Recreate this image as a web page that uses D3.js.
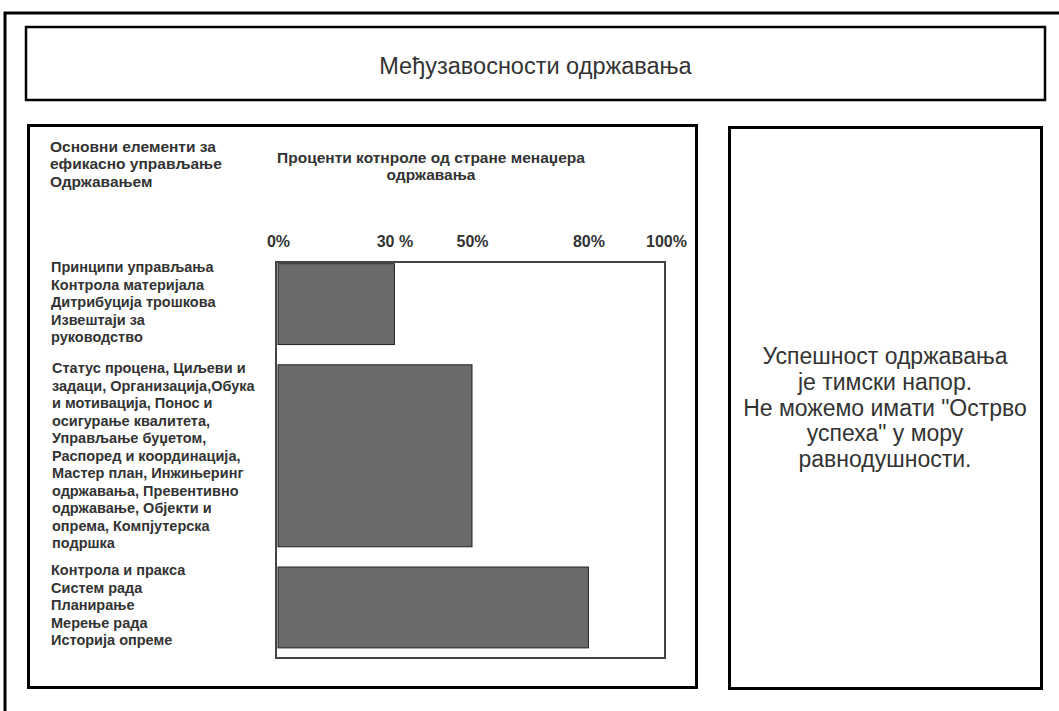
<!DOCTYPE html>
<html>
<head>
<meta charset="utf-8">
<script src="https://cdn.jsdelivr.net/npm/d3@7"></script>
<style>
  body { margin: 0; background: #fff; }
  text { font-family: "Liberation Sans", Arial, sans-serif; fill: #333; }
</style>
</head>
<body>
<div class="vis-chart"></div>
<script>
// data
const chartTitle = 'Међузавосности одржавања';
const leftHeader = ['Основни елементи за', 'ефикасно управљање', 'Одржавањем'];
const axisTitle = ['Проценти котнроле од стране менаџера', 'одржавања'];
const categories = [
    ['Принципи управљања', 'Контрола материјала', 'Дитрибуција трошкова', 'Извештаји за', 'руководство'],
    ['Статус процена, Циљеви и', 'задаци, Организација,Обука', 'и мотивација, Понос и',
     'осигурање квалитета,', 'Управљање буџетом,', 'Распоред и координација,',
     'Мастер план, Инжињеринг', 'одржавања, Превентивно', 'одржавање, Објекти и',
     'опрема, Компјутерска', 'подршка'],
    ['Контрола и пракса', 'Систем рада', 'Планирање', 'Мерење рада', 'Историја опреме']
];
const values = [30, 50, 80];
const tickValues = [0, 30, 50, 80, 100];
const tickLabels = ['0%', '30 %', '50%', '80%', '100%'];
const noteLines = ['Успешност одржавања', 'је тимски напор.', 'Не можемо имати "Острво', 'успеха" у мору', 'равнодушности.'];

const W = 1059, H = 711;
const lineH = 17.5;

const svg = d3.select('.vis-chart').append('svg')
    .attr('width', W)
    .attr('height', H);

// frames
svg.append('rect').attr('x', 5).attr('y', 13).attr('width', 1200).attr('height', 900)
    .attr('fill', 'none').attr('stroke', '#000').attr('stroke-width', 3);
svg.append('rect').attr('x', 26).attr('y', 27).attr('width', 1019).attr('height', 73)
    .attr('fill', 'none').attr('stroke', '#000').attr('stroke-width', 2.5);
svg.append('rect').attr('x', 28.5).attr('y', 125.5).attr('width', 668).attr('height', 562)
    .attr('fill', 'none').attr('stroke', '#000').attr('stroke-width', 3);
svg.append('rect').attr('x', 729.5).attr('y', 127.5).attr('width', 312).attr('height', 561)
    .attr('fill', 'none').attr('stroke', '#000').attr('stroke-width', 3);

// title
svg.append('text')
    .attr('x', 535.5).attr('y', 66)
    .attr('text-anchor', 'middle').attr('dominant-baseline', 'central')
    .style('font-size', '23.5px')
    .text(chartTitle);

// left header and axis title
svg.append('g').selectAll('text')
    .data(leftHeader).enter().append('text')
    .attr('x', 50).attr('y', (d, i) => 146 + i * lineH)
    .attr('dominant-baseline', 'central')
    .style('font-size', '15.5px').style('font-weight', 'bold')
    .text(d => d);

svg.append('g').selectAll('text')
    .data(axisTitle).enter().append('text')
    .attr('x', 431).attr('y', (d, i) => 157 + i * lineH)
    .attr('text-anchor', 'middle').attr('dominant-baseline', 'central')
    .style('font-size', '15.5px').style('font-weight', 'bold')
    .text(d => d);

// scales
const xScale = d3.scaleLinear().domain([0, 100]).range([278, 666]);

// rows: each group takes as many units as it has label lines, one unit gap between groups
const starts = [];
let acc = 0;
categories.forEach((c, i) => { starts.push(acc); acc += c.length + 1; });
const yScale = d3.scaleLinear().domain([0, acc - 1 + 0.5]).range([262, 658]);
const pad = 0.1;

// plot box
svg.append('rect')
    .attr('x', 276).attr('y', 262).attr('width', 389).attr('height', 396)
    .attr('fill', 'none').attr('stroke', '#444').attr('stroke-width', 2);

// axis labels
const xAxis = d3.axisTop(xScale)
    .tickValues(tickValues)
    .tickFormat((d, i) => tickLabels[i])
    .tickSize(0).tickPadding(0);
const axisG = svg.append('g')
    .attr('transform', 'translate(0,247)')
    .call(xAxis);
axisG.select('.domain').remove();
axisG.selectAll('text')
    .style('font-size', '16px').style('font-weight', 'bold')
    .style('font-family', '"Liberation Sans", Arial, sans-serif')
    .attr('fill', '#333');

// bars
svg.append('g').selectAll('rect')
    .data(values).enter().append('rect')
    .attr('x', xScale(0))
    .attr('y', (d, i) => yScale(starts[i] + pad))
    .attr('width', d => xScale(d) - xScale(0))
    .attr('height', (d, i) => yScale(starts[i] + categories[i].length - pad) - yScale(starts[i] + pad))
    .attr('fill', '#6a6a6a')
    .attr('stroke', '#222')
    .attr('stroke-width', 1);

// category labels, starting near the top of their bar
const labelG = svg.append('g');
categories.forEach((lines, i) => {
    const top = yScale(starts[i]) + 5;
    labelG.append('g').selectAll('text')
        .data(lines).enter().append('text')
        .attr('x', i === 1 ? 52 : 51)
        .attr('y', (d, j) => top + j * lineH)
        .attr('dominant-baseline', 'central')
        .style('font-size', '14.5px').style('font-weight', 'bold')
        .text(d => d);
});

// note on the right
svg.append('g').selectAll('text')
    .data(noteLines).enter().append('text')
    .attr('x', 885).attr('y', (d, i) => 356 + i * 25.8)
    .attr('text-anchor', 'middle').attr('dominant-baseline', 'central')
    .style('font-size', '23px')
    .text(d => d);
</script>
</body>
</html>
